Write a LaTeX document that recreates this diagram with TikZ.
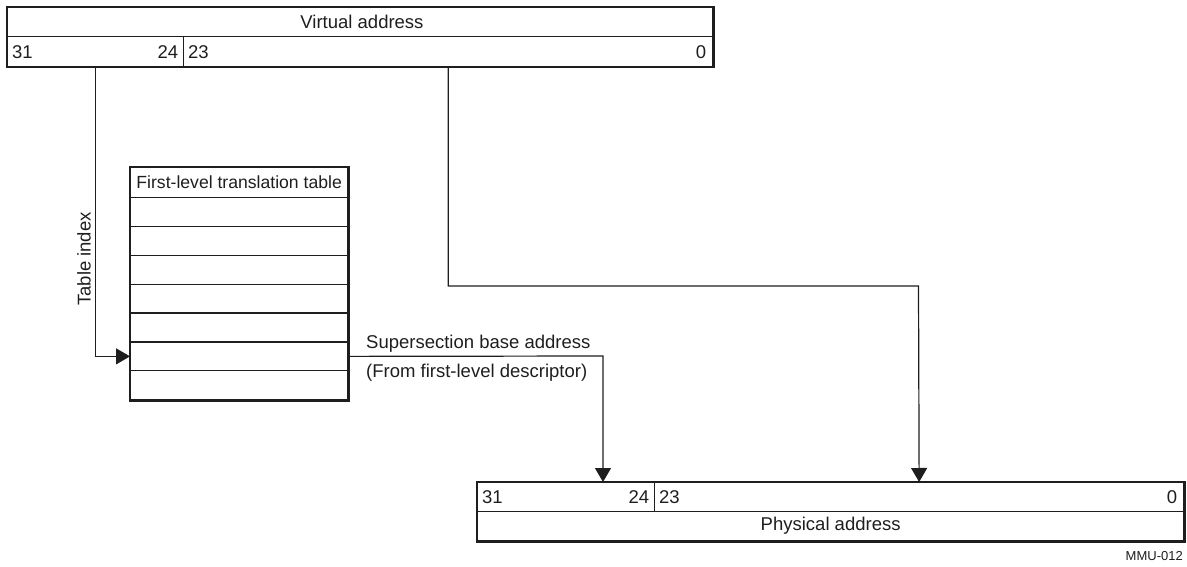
\documentclass[tikz,border=0pt]{standalone}
\usepackage{fontspec}
\setmainfont{Liberation Sans}
\usetikzlibrary{arrows.meta}
\definecolor{ink}{HTML}{1E1E1E}
\begin{document}
\begin{tikzpicture}[x=1pt,y=-1pt,
  cell/.style={draw=ink, line width=1.3pt, rectangle, inner sep=0pt, anchor=north west},
  outer/.style={draw=ink, line width=2.4pt},
  lbl/.style={inner sep=0pt, text=ink, font=\fontsize{18.5}{21}\selectfont},
  small/.style={inner sep=0pt, text=ink, font=\fontsize{13}{15}\selectfont},
  conn/.style={draw=ink, line width=1.2pt},
  arr/.style={conn, -{Triangle[length=14pt,width=16pt]}}]
\useasboundingbox (0,0) rectangle (1187,567);
% Virtual address box
\node[cell, minimum width=705pt, minimum height=29pt] (vatop) at (7,7) {};
\node[cell, minimum width=176pt, minimum height=30pt] (va31) at (7,36) {};
\node[cell, minimum width=529pt, minimum height=30pt] (va23) at (183,36) {};
\draw[outer] (vatop.north west) rectangle (va23.south east);
\node[lbl] (vaname) at (362,22) {Virtual address};
\node[lbl, anchor=west, xshift=5pt] (vb31) at (va31.west) {31};
\node[lbl, anchor=east, xshift=-6pt] (vb24) at (va31.east) {24};
\node[lbl, anchor=west, xshift=5pt] (vb23) at (va23.west) {23};
\node[lbl, anchor=east, xshift=-7pt] (vb0) at (va23.east) {0};
% First-level translation table
\node[cell, minimum width=217pt, minimum height=30pt] (thead) at (130,167) {};
\node[lbl, font=\fontsize{17.6}{20}\selectfont] (ttitle) at (thead.center) {First-level translation table};
\foreach \i in {1,...,7}
  \node[cell, minimum width=217pt, minimum height=28.86pt] (row\i) at (130,{197+28.86*(\i-1)}) {};
\draw[outer] (thead.north west) rectangle (row7.south east);
% Physical address box
\node[cell, minimum width=177pt, minimum height=29pt] (pa31) at (477,482) {};
\node[cell, minimum width=529pt, minimum height=29pt] (pa23) at (654,482) {};
\node[cell, minimum width=706pt, minimum height=29pt] (paname) at (477,511) {};
\draw[outer] (pa31.north west) rectangle (paname.south east);
\node[lbl] (patext) at (paname.center) {Physical address};
\node[lbl, anchor=west, xshift=5pt] (pb31) at (pa31.west) {31};
\node[lbl, anchor=east, xshift=-6pt] (pb24) at (pa31.east) {24};
\node[lbl, anchor=west, xshift=5pt] (pb23) at (pa23.west) {23};
\node[lbl, anchor=east, xshift=-7pt] (pb0) at (pa23.east) {0};
% Connectors
\draw[arr] (va31.south) |- (row6.west);
\node[lbl, rotate=90] (tidx) at (84,259) {Table index};
\coordinate (j2) at (918.5,286);
\draw[arr] (va23.south) |- (j2) -- (pa23.north);
\coordinate (j3) at (603,356);
\draw[arr] (row6.east) -- (j3) -- (j3 |- pa31.north);
\node[lbl, anchor=west] (ss1) at (366,344) {Supersection base address};
\node[lbl, anchor=west] (ss2) at (366,373) {(From first-level descriptor)};
\node[small, anchor=east] (mmu) at (1183,556) {MMU-012};
\end{tikzpicture}
\end{document}
